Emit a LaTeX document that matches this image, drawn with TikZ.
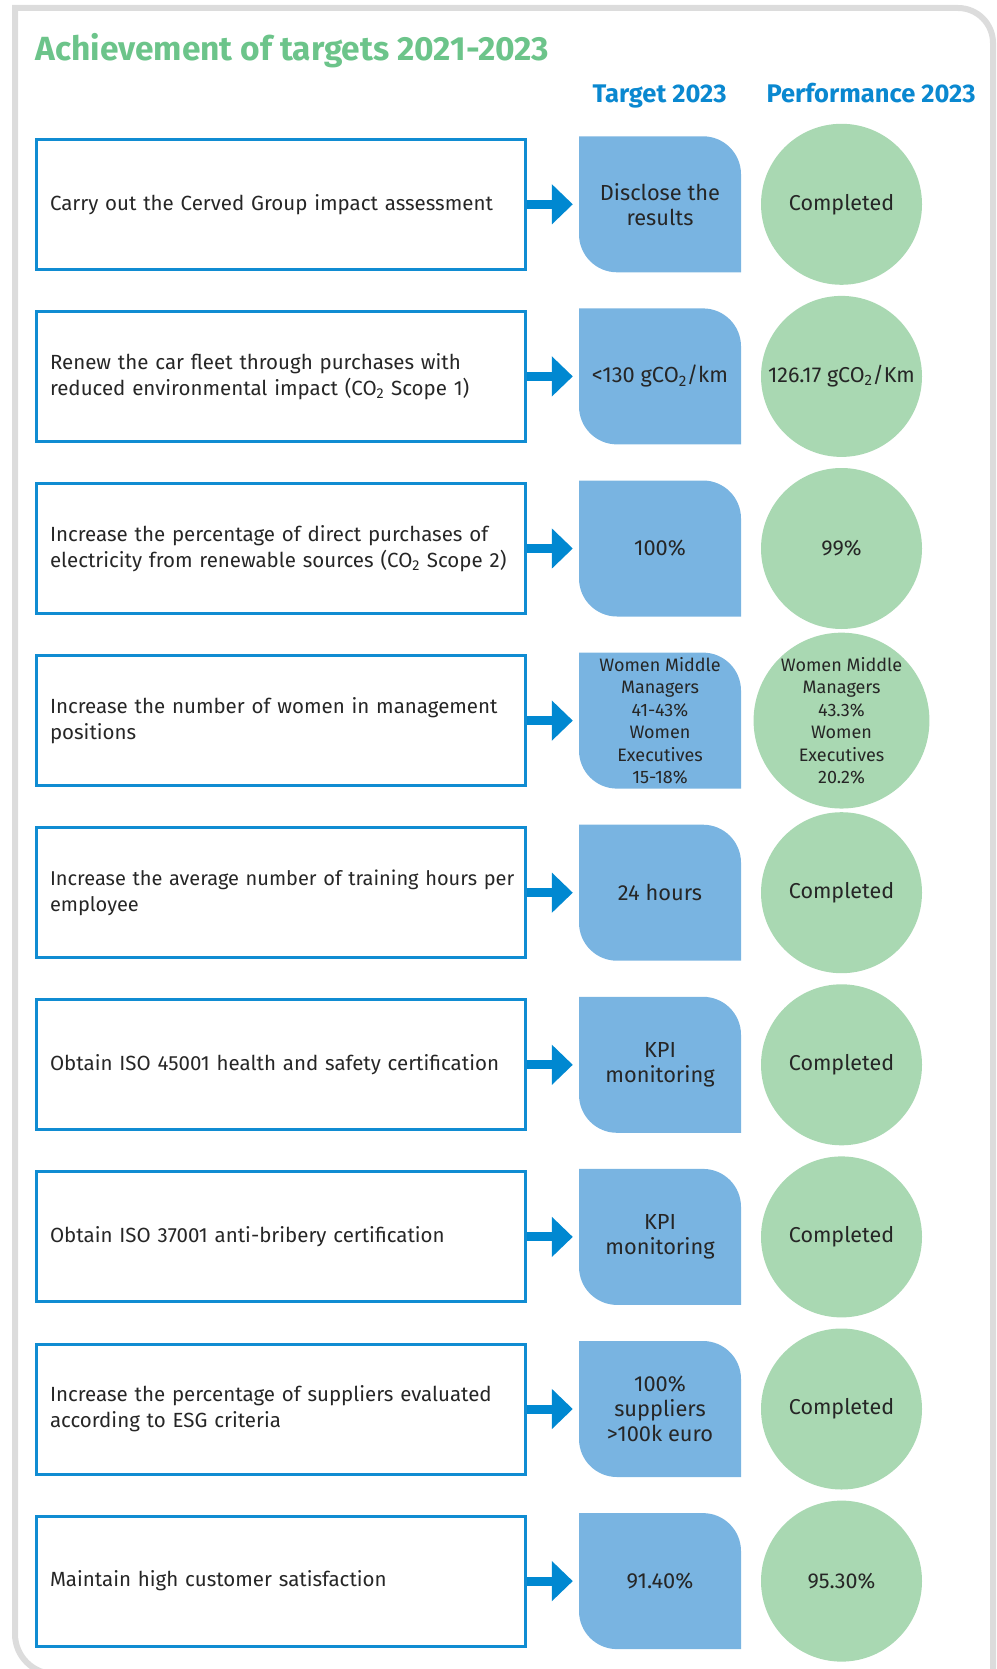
\documentclass[tikz,border=0pt]{standalone}
\usepackage{fontspec}
\setmainfont{Fira Sans}
\usepackage{tikz}
\usetikzlibrary{arrows.meta}

\definecolor{goalblue}{HTML}{108CD2}
\definecolor{arrowblue}{HTML}{0088D1}
\definecolor{tgtblue}{HTML}{79B4E1}
\definecolor{perfgreen}{HTML}{A9D8B2}
\definecolor{titlegreen}{HTML}{6CC48A}
\definecolor{headblue}{HTML}{0A88D0}
\definecolor{framegrey}{HTML}{DCDCDC}
\definecolor{txtgrey}{HTML}{262626}

\begin{document}
\begin{tikzpicture}[x=1pt,y=1pt,
	goal/.style={draw=goalblue, line width=3pt, rectangle, minimum height=130pt,
		text width=461pt, inner xsep=14pt, inner ysep=0pt, align=left,
		text=txtgrey, font=\fontsize{20.5}{26}\selectfont},
	tgt/.style={rectangle, minimum width=162pt, minimum height=136pt, inner sep=0pt,
		align=center, text=txtgrey, font=\fontsize{21.8}{25}\selectfont,
		path picture={\fill[tgtblue] (path picture bounding box.north west)
			-- ([xshift=-38pt]path picture bounding box.north east)
			arc[start angle=90,end angle=0,radius=38pt]
			-- (path picture bounding box.south east)
			-- ([xshift=38pt]path picture bounding box.south west)
			arc[start angle=270,end angle=180,radius=38pt] -- cycle;}},
	perf/.style={circle, fill=perfgreen, minimum size=161pt, inner sep=0pt,
		align=center, text=txtgrey, font=\fontsize{21.5}{25}\selectfont},
	small/.style={font=\fontsize{18}{22.5}\selectfont},
	link/.style={draw=arrowblue, line width=9pt, -{Triangle[length=21pt,width=39pt]}, shorten >=6pt},
	head/.style={anchor=base, text=headblue, font=\fontsize{25.5}{30}\bfseries}]
	\path[use as bounding box, clip] (0,0) rectangle (996,-1669);
	%\draw[help lines] (0,0) grid (996,-1669);
	\draw[framegrey, line width=6pt] (993,-1700) -- (993,-43) arc[start angle=0,end angle=90,radius=35]
		-- (15,-8) -- (15,-1634) arc[start angle=180,end angle=270,radius=40] -- (1000,-1674);

	\node[anchor=base west, text=titlegreen, font=\fontsize{33.5}{40}\bfseries] (title) at (32,-61) {Achievement of targets 2021-2023};
	\node[head] (hdtgt) at (659.5,-103) {Target 2023};
	\node[head] (hdperf) at (871,-103) {Performance 2023};

	\node[goal] (goal1) at (280.5,-204.3) {Carry out the Cerved Group impact assessment};
	\node[tgt] (tgt1) at (660,-204.3) {Disclose the\\results};
	\node[perf] (perf1) at (841.5,-204.3) {Completed};
	\draw[link] (goal1)--(tgt1);

	\node[goal] (goal2) at (280.5,-376.4) {Renew the car fleet through purchases with\\reduced environmental impact (CO\textsubscript{2} Scope 1)};
	\node[tgt] (tgt2) at (660,-376.4) {<130 gCO\textsubscript{2}/km};
	\node[perf] (perf2) at (841.5,-376.4) {126.17 gCO\textsubscript{2}/Km};
	\draw[link] (goal2)--(tgt2);

	\node[goal] (goal3) at (280.5,-548.5) {Increase the percentage of direct purchases of\\electricity from renewable sources (CO\textsubscript{2} Scope 2)};
	\node[tgt] (tgt3) at (660,-548.5) {100\%};
	\node[perf] (perf3) at (841.5,-548.5) {99\%};
	\draw[link] (goal3)--(tgt3);

	\node[goal] (goal4) at (280.5,-720.6) {Increase the number of women in management\\positions};
	\node[tgt,small] (tgt4) at (660,-720.6) {Women Middle\\Managers\\41-43\%\\Women\\Executives\\15-18\%};
	\node[perf,small] (perf4) at (841.5,-720.6) {Women Middle\\Managers\\43.3\%\\Women\\Executives\\20.2\%};
	\draw[link] (goal4)--(tgt4);

	\node[goal,font=\fontsize{20}{26}\selectfont] (goal5) at (280.5,-892.7) {\mbox{Increase the average number of training hours per}\\employee};
	\node[tgt] (tgt5) at (660,-892.7) {24 hours};
	\node[perf] (perf5) at (841.5,-892.7) {Completed};
	\draw[link] (goal5)--(tgt5);

	\node[goal] (goal6) at (280.5,-1064.8) {Obtain ISO 45001 health and safety certification};
	\node[tgt] (tgt6) at (660,-1064.8) {KPI\\monitoring};
	\node[perf] (perf6) at (841.5,-1064.8) {Completed};
	\draw[link] (goal6)--(tgt6);

	\node[goal] (goal7) at (280.5,-1236.9) {Obtain ISO 37001 anti-bribery certification};
	\node[tgt] (tgt7) at (660,-1236.9) {KPI\\monitoring};
	\node[perf] (perf7) at (841.5,-1236.9) {Completed};
	\draw[link] (goal7)--(tgt7);

	\node[goal] (goal8) at (280.5,-1409) {Increase the percentage of suppliers evaluated\\according to ESG criteria};
	\node[tgt] (tgt8) at (660,-1409) {100\%\\suppliers\\>100k euro};
	\node[perf] (perf8) at (841.5,-1409) {Completed};
	\draw[link] (goal8)--(tgt8);

	\node[goal] (goal9) at (280.5,-1581.1) {Maintain high customer satisfaction};
	\node[tgt] (tgt9) at (660,-1581.1) {91.40\%};
	\node[perf] (perf9) at (841.5,-1581.1) {95.30\%};
	\draw[link] (goal9)--(tgt9);

\end{tikzpicture}
\end{document}
